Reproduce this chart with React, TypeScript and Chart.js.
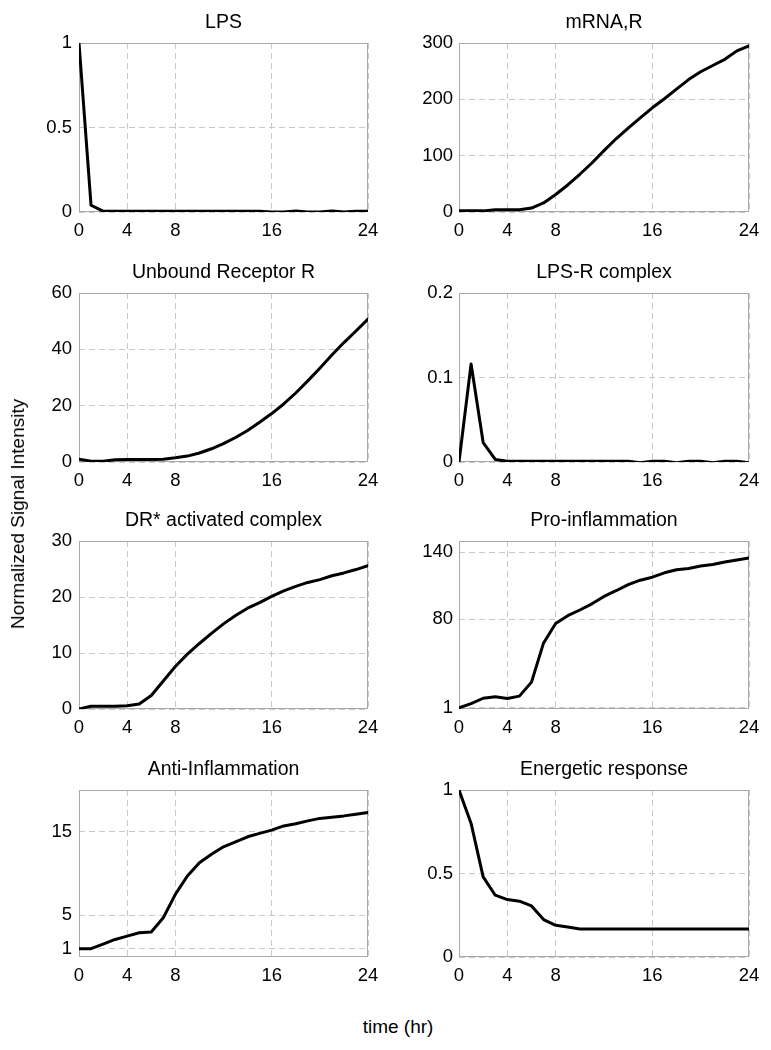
import React, { useEffect, useRef } from 'react';
import { Chart, registerables } from 'chart.js';

Chart.register(...registerables);

// ---------- data ----------
const HOURS = [0, 1, 2, 3, 4, 5, 6, 7, 8, 9, 10, 11, 12, 13, 14, 15, 16, 17, 18, 19, 20, 21, 22, 23, 24];
const X_TICKS = [0, 4, 8, 16, 24];

const LPS = [1, 0.04, 0.005, 0.004, 0.004, 0.004, 0.004, 0.004, 0.004, 0.004, 0.004, 0.004, 0.004, 0.004, 0.004, 0.004, 0, 0, 0.006, 0, 0, 0.006, 0, 0.004, 0.004];
const MRNA_R = [2, 2, 2, 4, 4, 4, 7, 16, 31, 48, 67, 87, 109, 130, 149, 167, 185, 201, 218, 235, 249, 260, 271, 286, 295];
const UNBOUND_R = [1, 0.3, 0.3, 0.8, 0.9, 0.9, 0.9, 1.0, 1.5, 2.1, 3.2, 4.7, 6.5, 8.7, 11.2, 14.1, 17.2, 20.6, 24.5, 28.8, 33.3, 38, 42.4, 46.5, 50.7];
const LPS_R = [0, 0.116, 0.023, 0.003, 0.001, 0.001, 0.001, 0.001, 0.001, 0.001, 0.001, 0.001, 0.001, 0.001, 0.001, -0.001, 0.001, 0.001, -0.001, 0.001, 0.001, -0.001, 0.001, 0.001, -0.001];
const DR_STAR = [0, 0.5, 0.5, 0.5, 0.6, 0.9, 2.4, 5.0, 7.6, 9.8, 11.7, 13.5, 15.2, 16.7, 18.0, 19.0, 20.1, 21.1, 21.9, 22.6, 23.1, 23.8, 24.3, 24.9, 25.6];
const PRO_INFL = [1, 4.8, 9.6, 10.9, 9.3, 11.5, 24, 59, 76.3, 83.3, 88.4, 93.9, 100.5, 105.6, 111, 115, 117.7, 121.6, 124.3, 125.5, 127.6, 129.1, 131.3, 133, 134.8];
const ANTI_INFL = [1, 1, 1.55, 2.1, 2.5, 2.9, 3.0, 4.7, 7.5, 9.7, 11.3, 12.3, 13.2, 13.8, 14.4, 14.8, 15.2, 15.7, 15.95, 16.3, 16.6, 16.75, 16.9, 17.1, 17.3];
const ENERGETIC = [1, 0.8, 0.48, 0.37, 0.344, 0.334, 0.306, 0.224, 0.19, 0.18, 0.168, 0.168, 0.168, 0.168, 0.168, 0.168, 0.168, 0.168, 0.168, 0.168, 0.168, 0.168, 0.168, 0.168, 0.168];

const TICKS_LPS = [0, 0.5, 1];
const TICKS_MRNA = [0, 100, 200, 300];
const TICKS_UNBOUND = [0, 20, 40, 60];
const TICKS_LPSR = [0, 0.1, 0.2];
const TICKS_DR = [0, 10, 20, 30];
const TICKS_PRO = [1, 80, 140];
const TICKS_ANTI = [1, 5, 15];
const TICKS_ENERGY = [0, 0.5, 1];

const TITLES = [
  'LPS',
  'mRNA,R',
  'Unbound Receptor R',
  'LPS-R complex',
  'DR* activated complex',
  'Pro-inflammation',
  'Anti-Inflammation',
  'Energetic response',
];

const PANELS = [
  { title: TITLES[0], values: LPS, min: 0, max: 1, ticks: TICKS_LPS },
  { title: TITLES[1], values: MRNA_R, min: 0, max: 300, ticks: TICKS_MRNA },
  { title: TITLES[2], values: UNBOUND_R, min: 0, max: 60, ticks: TICKS_UNBOUND },
  { title: TITLES[3], values: LPS_R, min: 0, max: 0.2, ticks: TICKS_LPSR },
  { title: TITLES[4], values: DR_STAR, min: 0, max: 30, ticks: TICKS_DR },
  { title: TITLES[5], values: PRO_INFL, min: 0, max: 150, ticks: TICKS_PRO },
  { title: TITLES[6], values: ANTI_INFL, min: 0, max: 20, ticks: TICKS_ANTI },
  { title: TITLES[7], values: ENERGETIC, min: 0, max: 1, ticks: TICKS_ENERGY },
];

// ---------- layout ----------
const FONT = "'Liberation Sans', Arial, Helvetica, sans-serif";
const PLOT_LEFT = [79, 459];
const PLOT_RIGHT = [368, 749];
const PLOT_TOP = [43, 293, 541, 790];
const PLOT_BOTTOM = [212, 462, 709, 957];
const Y_AXIS_W = 72;
const PAD_RIGHT = 20;
const TITLE_H = 34;
const X_AXIS_H = 32;
const TITLE_SIZE = 19.5;
const TITLE_PAD_TOP = 2;
const TICK_SIZE = 18.5;

const framePlugin = {
  id: 'frame',
  beforeDatasetsDraw(chart: any) {
    const { ctx, chartArea: a } = chart;
    ctx.save();
    ctx.strokeStyle = '#a8a8a8';
    ctx.lineWidth = 1;
    ctx.setLineDash([]);
    const l = Math.round(a.left) + 0.5;
    const t = Math.round(a.top) + 0.5;
    const r = Math.round(a.right) - 0.5;
    const b = Math.round(a.bottom) - 0.5;
    ctx.strokeRect(l, t, r - l, b - t);
    ctx.restore();
  },
};

function Panel({ idx }: { idx: number }) {
  const ref = useRef<HTMLCanvasElement | null>(null);
  const p = PANELS[idx];
  const col = idx % 2;
  const row = Math.floor(idx / 2);
  const left = PLOT_LEFT[col] - Y_AXIS_W;
  const top = PLOT_TOP[row] - TITLE_H;
  const width = PLOT_RIGHT[col] - left + PAD_RIGHT;
  const height = PLOT_BOTTOM[row] - top + X_AXIS_H;

  useEffect(() => {
    if (!ref.current) return;
    const chart = new Chart(ref.current, {
      type: 'line',
      data: {
        datasets: [
          {
            data: HOURS.map((h, i) => ({ x: h, y: p.values[i] })),
            borderColor: '#000',
            borderWidth: 3,
            pointRadius: 0,
            tension: 0,
            fill: false,
            borderJoinStyle: 'round',
            borderCapStyle: 'round',
          },
        ],
      },
      options: {
        responsive: false,
        animation: false,
        events: [],
        layout: { padding: { left: 0, right: PAD_RIGHT, top: 0, bottom: 0 } },
        plugins: {
          legend: { display: false },
          tooltip: { enabled: false },
          title: {
            display: true,
            fullSize: false,
            text: p.title,
            color: '#000',
            font: { family: FONT, size: TITLE_SIZE, weight: 'normal', lineHeight: 1.2 },
            padding: { top: TITLE_PAD_TOP, bottom: TITLE_H - TITLE_SIZE * 1.2 - TITLE_PAD_TOP },
          },
        },
        scales: {
          x: {
            type: 'linear',
            min: 0,
            max: 24,
            afterBuildTicks: (s: any) => {
              s.ticks = X_TICKS.map((v) => ({ value: v }));
            },
            afterFit: (s: any) => {
              s.height = X_AXIS_H;
              s.paddingLeft = 0;
              s.paddingRight = 0;
            },
            ticks: {
              color: '#000',
              padding: 8,
              autoSkip: false,
              maxRotation: 0,
              font: { family: FONT, size: TICK_SIZE },
              callback: (v: any) => String(v),
            },
            grid: { color: '#c8c8c8', lineWidth: 1, drawTicks: false },
            border: { display: false, dash: [6, 4] },
          },
          y: {
            type: 'linear',
            min: p.min,
            max: p.max,
            afterBuildTicks: (s: any) => {
              s.ticks = p.ticks.map((v) => ({ value: v }));
            },
            afterFit: (s: any) => {
              s.width = Y_AXIS_W;
            },
            ticks: {
              color: '#000',
              padding: col === 0 ? 7 : 6,
              autoSkip: false,
              font: { family: FONT, size: TICK_SIZE },
              callback: (v: any) => String(v),
            },
            grid: { color: '#c8c8c8', lineWidth: 1, drawTicks: false },
            border: { display: false, dash: [6, 4] },
          },
        },
      } as any,
      plugins: [framePlugin],
    });
    return () => chart.destroy();
  }, [idx]);

  return (
    <canvas
      ref={ref}
      width={width}
      height={height}
      style={{ position: 'absolute', left, top, width, height }}
    />
  );
}

export default function App() {
  return (
    <div
      style={{
        position: 'absolute',
        left: 0,
        top: 0,
        width: 771,
        height: 1050,
        background: '#fff',
        fontFamily: FONT,
        overflow: 'hidden',
      }}
    >
      {PANELS.map((_, i) => (
        <Panel key={i} idx={i} />
      ))}
      <div
        style={{
          position: 'absolute',
          left: 18,
          top: 514,
          transform: 'translate(-50%, -50%) rotate(-90deg)',
          whiteSpace: 'nowrap',
          fontSize: 19,
          color: '#000',
        }}
      >
        Normalized Signal Intensity
      </div>
      <div
        style={{
          position: 'absolute',
          left: 398,
          top: 1027,
          transform: 'translate(-50%, -50%)',
          whiteSpace: 'nowrap',
          fontSize: 19,
          color: '#000',
        }}
      >
        time (hr)
      </div>
    </div>
  );
}
